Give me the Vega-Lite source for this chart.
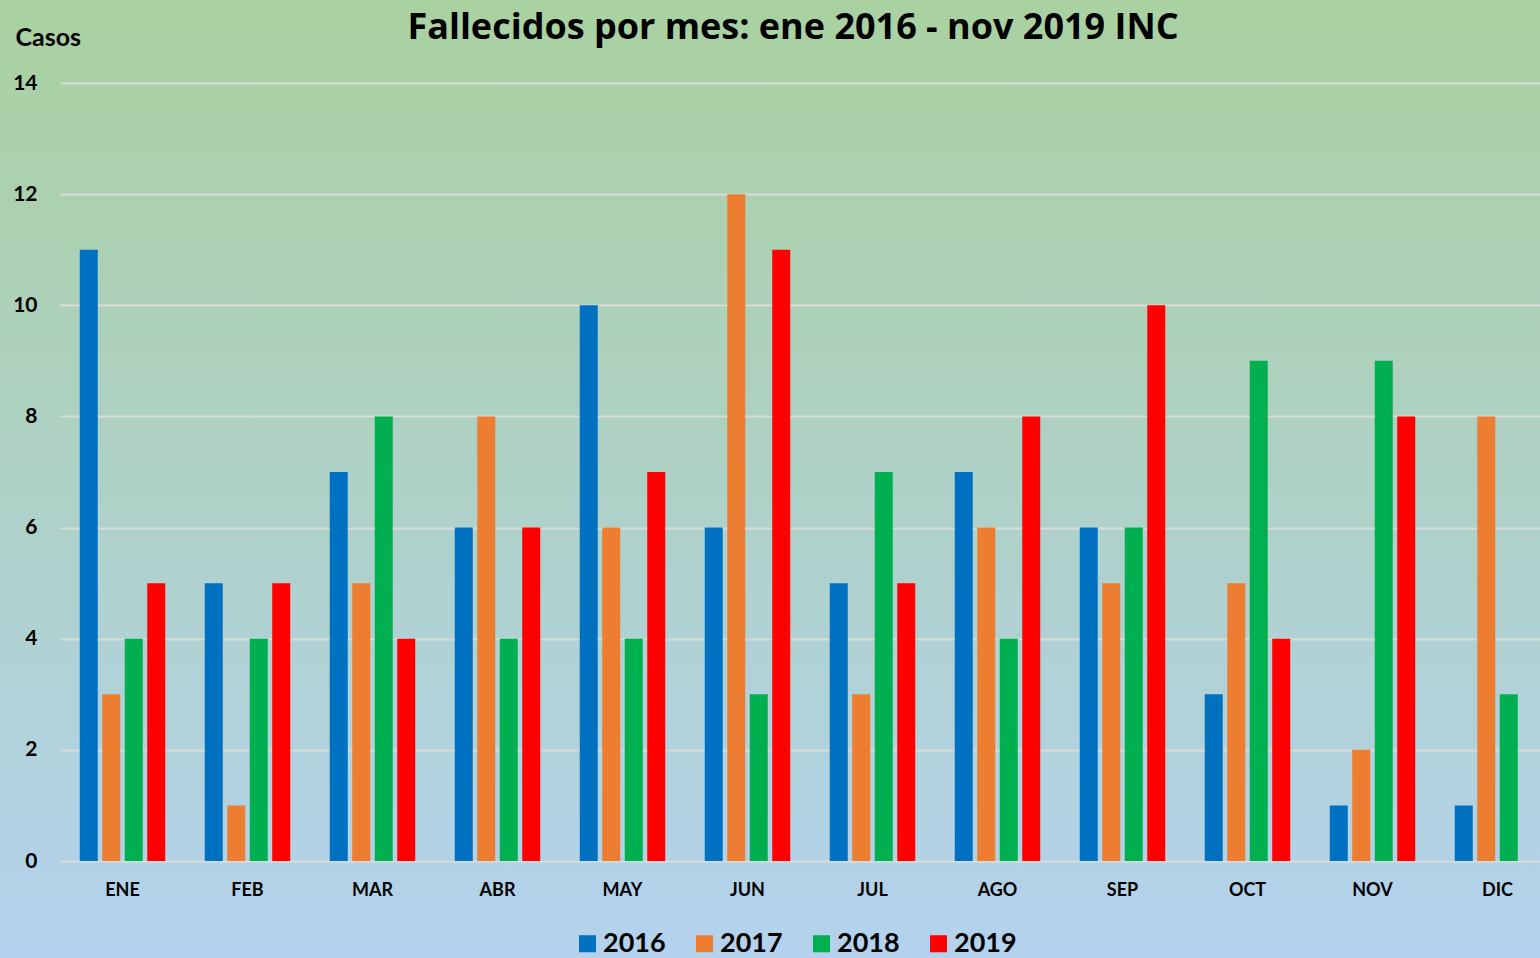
{
  "$schema": "https://vega.github.io/schema/vega-lite/v6.json",
  "autosize": "none",
  "width": 1540,
  "height": 958,
  "padding": 0,
  "background": "#b0d2c8",
  "config": {
    "font": "Lato",
    "view": {
      "stroke": null,
      "fill": {
        "gradient": "linear",
        "x1": 0, "y1": 0, "x2": 0, "y2": 1,
        "stops": [
          {"offset": 0, "color": "#a9d1a0"},
          {"offset": 0.5, "color": "#aed1c6"},
          {"offset": 1, "color": "#b4d2ee"}
        ]
      }
    }
  },
  "title": {
    "text": "Fallecidos por mes: ene 2016 - nov 2019 INC",
    "font": "Open Sans",
    "fontSize": 36,
    "fontWeight": "bold",
    "color": "#000000",
    "anchor": "middle",
    "frame": "group",
    "offset": -40,
    "baseline": "alphabetic",
    "dx": 23,
    "dy": 35
  },
  "data": {
    "values": [
      {"mes": "ENE", "anio": "2016", "casos": 11},
      {"mes": "ENE", "anio": "2017", "casos": 3},
      {"mes": "ENE", "anio": "2018", "casos": 4},
      {"mes": "ENE", "anio": "2019", "casos": 5},
      {"mes": "FEB", "anio": "2016", "casos": 5},
      {"mes": "FEB", "anio": "2017", "casos": 1},
      {"mes": "FEB", "anio": "2018", "casos": 4},
      {"mes": "FEB", "anio": "2019", "casos": 5},
      {"mes": "MAR", "anio": "2016", "casos": 7},
      {"mes": "MAR", "anio": "2017", "casos": 5},
      {"mes": "MAR", "anio": "2018", "casos": 8},
      {"mes": "MAR", "anio": "2019", "casos": 4},
      {"mes": "ABR", "anio": "2016", "casos": 6},
      {"mes": "ABR", "anio": "2017", "casos": 8},
      {"mes": "ABR", "anio": "2018", "casos": 4},
      {"mes": "ABR", "anio": "2019", "casos": 6},
      {"mes": "MAY", "anio": "2016", "casos": 10},
      {"mes": "MAY", "anio": "2017", "casos": 6},
      {"mes": "MAY", "anio": "2018", "casos": 4},
      {"mes": "MAY", "anio": "2019", "casos": 7},
      {"mes": "JUN", "anio": "2016", "casos": 6},
      {"mes": "JUN", "anio": "2017", "casos": 12},
      {"mes": "JUN", "anio": "2018", "casos": 3},
      {"mes": "JUN", "anio": "2019", "casos": 11},
      {"mes": "JUL", "anio": "2016", "casos": 5},
      {"mes": "JUL", "anio": "2017", "casos": 3},
      {"mes": "JUL", "anio": "2018", "casos": 7},
      {"mes": "JUL", "anio": "2019", "casos": 5},
      {"mes": "AGO", "anio": "2016", "casos": 7},
      {"mes": "AGO", "anio": "2017", "casos": 6},
      {"mes": "AGO", "anio": "2018", "casos": 4},
      {"mes": "AGO", "anio": "2019", "casos": 8},
      {"mes": "SEP", "anio": "2016", "casos": 6},
      {"mes": "SEP", "anio": "2017", "casos": 5},
      {"mes": "SEP", "anio": "2018", "casos": 6},
      {"mes": "SEP", "anio": "2019", "casos": 10},
      {"mes": "OCT", "anio": "2016", "casos": 3},
      {"mes": "OCT", "anio": "2017", "casos": 5},
      {"mes": "OCT", "anio": "2018", "casos": 9},
      {"mes": "OCT", "anio": "2019", "casos": 4},
      {"mes": "NOV", "anio": "2016", "casos": 1},
      {"mes": "NOV", "anio": "2017", "casos": 2},
      {"mes": "NOV", "anio": "2018", "casos": 9},
      {"mes": "NOV", "anio": "2019", "casos": 8},
      {"mes": "DIC", "anio": "2016", "casos": 1},
      {"mes": "DIC", "anio": "2017", "casos": 8},
      {"mes": "DIC", "anio": "2018", "casos": 3}
    ]
  },
  "mark": {"type": "bar"},
  "encoding": {
    "x": {
      "field": "mes",
      "type": "nominal",
      "sort": ["ENE", "FEB", "MAR", "ABR", "MAY", "JUN", "JUL", "AGO", "SEP", "OCT", "NOV", "DIC"],
      "scale": {"range": [60, 1560], "paddingInner": 0, "paddingOuter": 0},
      "axis": {
        "orient": "bottom",
        "offset": -97,
        "domain": false,
        "ticks": false,
        "grid": false,
        "labelPadding": 20,
        "labelFontSize": 18,
        "labelFontWeight": "bold",
        "labelColor": "#000000",
        "labelAngle": 0,
        "title": null
      }
    },
    "xOffset": {
      "field": "anio",
      "type": "nominal",
      "scale": {"domain": ["2016", "2017", "2018", "2019"], "paddingInner": 0.2, "paddingOuter": 0.878}
    },
    "y": {
      "field": "casos",
      "type": "quantitative",
      "scale": {"domain": [-1.7455, 15.4936], "nice": false, "zero": false},
      "axis": {
        "orient": "left",
        "offset": -60,
        "values": [0, 2, 4, 6, 8, 10, 12, 14],
        "grid": true,
        "gridColor": "#dadcd8",
        "gridWidth": 2,
        "domain": false,
        "ticks": false,
        "labelPadding": 23,
        "labelFontSize": 21,
        "labelFontWeight": "bold",
        "labelColor": "#000000",
        "title": "Casos",
        "titleAngle": 0,
        "titleAlign": "left",
        "titleBaseline": "middle",
        "titleX": -45,
        "titleY": 37,
        "titleFontSize": 25,
        "titleFontWeight": "bold",
        "titleColor": "#000000"
      }
    },
    "y2": {"datum": 0},
    "color": {
      "field": "anio",
      "type": "nominal",
      "scale": {"domain": ["2016", "2017", "2018", "2019"], "range": ["#0070c0", "#ed7d31", "#00b050", "#ff0000"]},
      "legend": {
        "orient": "none",
        "legendX": 574,
        "legendY": 930,
        "direction": "horizontal",
        "title": null,
        "padding": 0,
        "symbolType": "square",
        "symbolSize": 290,
        "symbolStrokeWidth": 0,
        "symbolOpacity": 1,
        "labelFontSize": 27,
        "labelFontWeight": "bold",
        "labelColor": "#000000",
        "labelOffset": 2,
        "columnPadding": 25
      }
    }
  }
}
